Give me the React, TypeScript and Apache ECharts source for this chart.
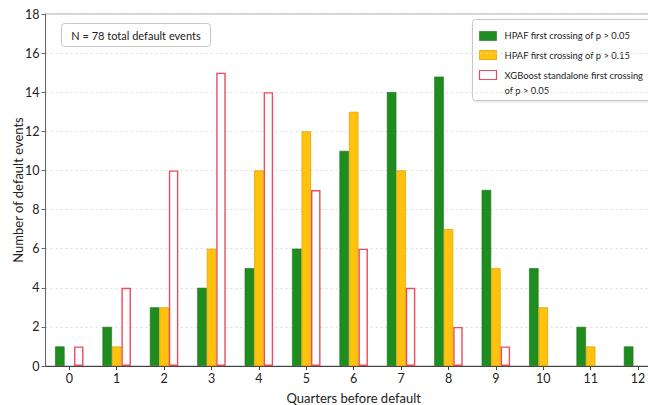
import React, { useEffect, useRef } from "react";
import * as echarts from "echarts";

const quarters = ["0", "1", "2", "3", "4", "5", "6", "7", "8", "9", "10", "11", "12"];
const hpaf005 = [1, 2, 3, 4, 5, 6, 11, 14, 14.8, 9, 5, 2, 1];
const hpaf015 = [0, 1, 3, 6, 10, 12, 13, 10, 7, 5, 3, 1, 0];
const xgb005 = [1, 4, 10, 15, 14, 9, 6, 4, 2, 1, 0, 0, 0];
const seriesNames = [
  "HPAF first crossing of p > 0.05",
  "HPAF first crossing of p > 0.15",
  "XGBoost standalone first crossing\nof p > 0.05",
];
const annotation = "N = 78 total default events";

const FONT = "Lato, 'Open Sans', sans-serif";
const GREEN = "#1f8c1f";
const GREEN_EDGE = "#177317";
const YELLOW = "#ffc20e";
const YELLOW_EDGE = "#e8a200";
const RED = "#ec4b60";
const TXT = "#222";

export default function App() {
  const ref = useRef<HTMLDivElement>(null);
  useEffect(() => {
    if (!ref.current) return;
    const chart = echarts.init(ref.current, null, { renderer: "svg" });
    const nz = (arr: number[]) => arr.map((v) => (v === 0 ? null : v));
    chart.setOption({
      animation: false,
      backgroundColor: "#fff",
      textStyle: { fontFamily: FONT },
      grid: {
        left: 45.6,
        top: 14,
        height: 352,
        width: 616.2,
        show: true,
        borderColor: "#aaa",
        borderWidth: 1,
        containLabel: false,
        outerBoundsMode: "none",
      },
      xAxis: {
        type: "category",
        data: quarters,
        boundaryGap: true,
        name: "Quarters before default",
        nameLocation: "middle",
        nameGap: 25,
        nameMoveOverlap: false,
        nameTextStyle: { fontSize: 13, color: TXT, fontFamily: FONT },
        axisLine: { show: true, lineStyle: { color: "#444", width: 1 } },
        axisTick: { show: true, alignWithLabel: true, length: 4, lineStyle: { color: "#444" } },
        axisLabel: { fontSize: 12.5, color: TXT, margin: 6, fontFamily: FONT },
        splitLine: { show: false },
      },
      yAxis: {
        type: "value",
        min: 0,
        max: 18,
        interval: 2,
        name: "Number of default events",
        nameLocation: "middle",
        nameGap: 21,
        nameMoveOverlap: false,
        nameTextStyle: { fontSize: 13, color: TXT, fontFamily: FONT },
        axisLine: { show: true, lineStyle: { color: "#666", width: 1 } },
        axisTick: { show: true, length: 4, lineStyle: { color: "#666" } },
        axisLabel: { fontSize: 12.5, color: TXT, margin: 6, fontFamily: FONT },
        splitLine: { show: true, lineStyle: { color: "#dcdcdc", type: [2, 3], width: 1 } },
      },
      series: [
        {
          name: seriesNames[0],
          type: "bar",
          data: nz(hpaf005),
          barWidth: "20%",
          barGap: "0%",
          itemStyle: { color: GREEN, borderColor: GREEN_EDGE, borderWidth: 0.6 },
        },
        {
          name: seriesNames[1],
          type: "bar",
          data: nz(hpaf015),
          barWidth: "20%",
          barGap: "0%",
          itemStyle: { color: YELLOW, borderColor: YELLOW_EDGE, borderWidth: 0.8 },
        },
        {
          name: seriesNames[2],
          type: "bar",
          data: nz(xgb005),
          barWidth: "20%",
          barGap: "0%",
          itemStyle: { color: "#fff", borderColor: RED, borderWidth: 1.4 },
        },
      ],
      graphic: [
        {
          type: "group",
          left: 61,
          top: 23,
          children: [
            {
              type: "rect",
              shape: { x: 0, y: 0, width: 149, height: 23, r: 3 },
              style: { fill: "#fff", stroke: "#c8c8c8", lineWidth: 1 },
            },
            {
              type: "text",
              x: 74.5,
              y: 11.5,
              style: { text: annotation, fill: TXT, font: `11px ${FONT}`, align: "center", verticalAlign: "middle" },
            },
          ],
        },
        {
          type: "group",
          left: 472,
          top: 19,
          children: [
            {
              type: "rect",
              shape: { x: 0, y: 0, width: 200, height: 81, r: 3 },
              style: { fill: "#fff", stroke: "#c8c8c8", lineWidth: 1, shadowBlur: 3, shadowColor: "rgba(0,0,0,0.12)", shadowOffsetX: 1, shadowOffsetY: 1 },
            },
            { type: "rect", shape: { x: 7, y: 12, width: 17, height: 9 }, style: { fill: GREEN, stroke: GREEN_EDGE, lineWidth: 0.6 } },
            { type: "rect", shape: { x: 7, y: 31, width: 17, height: 9 }, style: { fill: YELLOW, stroke: YELLOW_EDGE, lineWidth: 0.8 } },
            { type: "rect", shape: { x: 7, y: 51, width: 17, height: 9 }, style: { fill: "#fff", stroke: RED, lineWidth: 1.2 } },
            { type: "text", x: 32, y: 16, style: { text: seriesNames[0], fill: TXT, font: `9.4px ${FONT}`, verticalAlign: "middle" } },
            { type: "text", x: 32, y: 35.5, style: { text: seriesNames[1], fill: TXT, font: `9.4px ${FONT}`, verticalAlign: "middle" } },
            { type: "text", x: 32, y: 48.5, style: { text: seriesNames[2], fill: TXT, font: `9.4px ${FONT}`, lineHeight: 15, verticalAlign: "top" } },
          ],
        },
      ],
    });
    return () => chart.dispose();
  }, []);
  return <div ref={ref} style={{ position: "absolute", left: 0, top: 0, width: 648, height: 405 }} />;
}
